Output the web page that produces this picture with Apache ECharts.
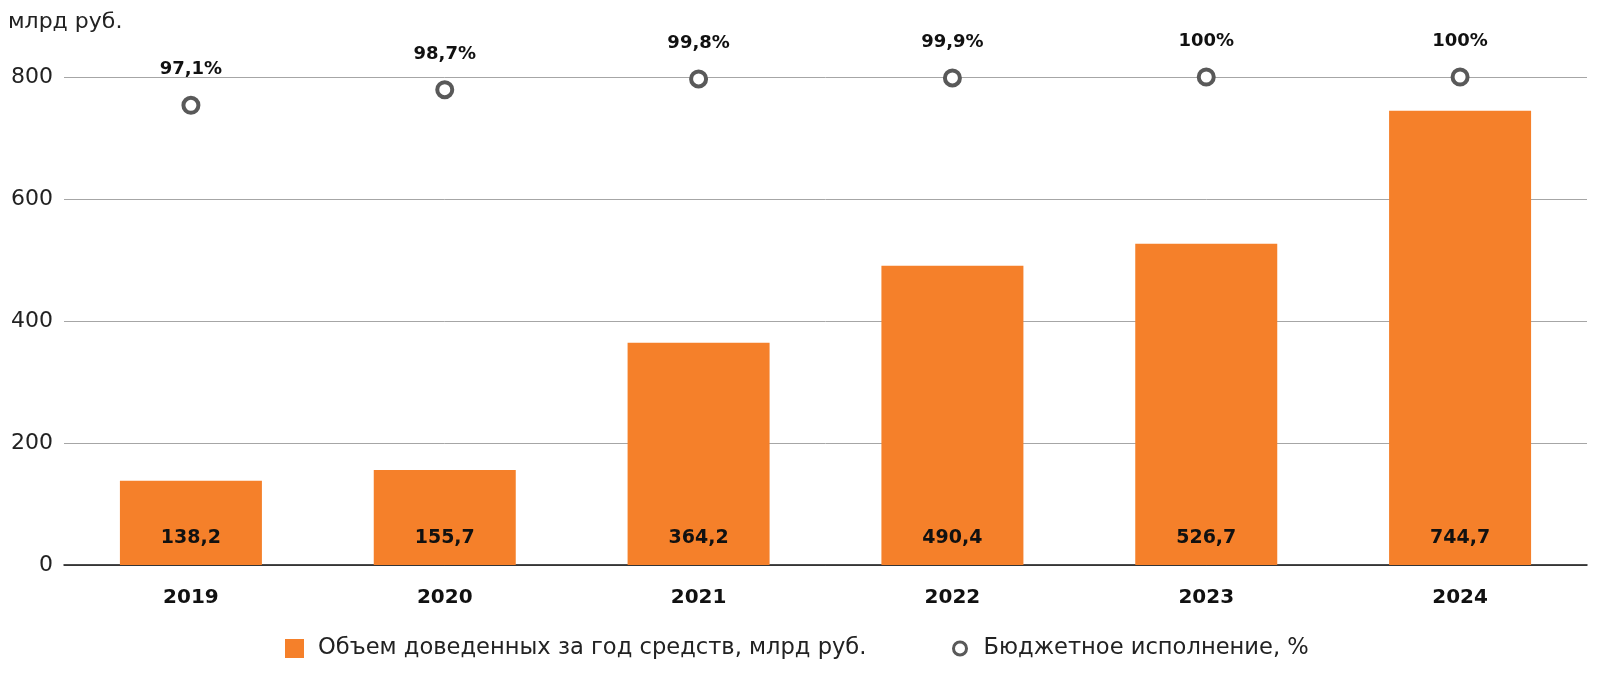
<!DOCTYPE html>
<html>
<head>
<meta charset="utf-8">
<script src="https://cdn.jsdelivr.net/npm/echarts@6/dist/echarts.min.js"></script>
<style>
    html, body { margin: 0; padding: 0; background: #fff; }
    #barChart { width: 1598px; height: 674px; }
</style>
</head>
<body>
<div id="barChart"></div>
<script>
const years = ['2019', '2020', '2021', '2022', '2023', '2024'];
const volumeValues = [138.2, 155.7, 364.2, 490.4, 526.7, 744.7];
const executionValues = [97.1, 98.7, 99.8, 99.9, 100, 100];
const yTicks = [0, 200, 400, 600, 800];

const volumeName = 'Объем доведенных за год средств, млрд руб.';
const executionName = 'Бюджетное исполнение, %';

const fontFamily = 'DejaVu Sans';

// 97.1 -> "97,1"
const toComma = (v) => String(v).replace('.', ',');

const chartOption = {
    animation: false,
    title: {
        text: 'млрд руб.',
        left: 3,
        top: 6,
        textStyle: {
            color: '#222',
            fontSize: 22,
            fontWeight: 'normal',
            fontFamily: fontFamily
        }
    },
    legend: [
        {
            data: [{ name: volumeName, icon: 'rect' }],
            left: 285,
            top: 637,
            padding: 0,
            itemWidth: 19,
            itemHeight: 19,
            textStyle: {
                color: '#222',
                fontSize: 22.6,
                fontFamily: fontFamily,
                padding: [0, 0, 0, 9]
            }
        },
        {
            data: [{
                name: executionName,
                icon: 'circle',
                itemStyle: { color: '#fff', borderColor: '#595959', borderWidth: 3 }
            }],
            left: 952,
            top: 637,
            padding: 0,
            itemWidth: 13,
            itemHeight: 13,
            textStyle: {
                color: '#222',
                fontSize: 22.6,
                fontFamily: fontFamily,
                padding: [0, 0, 0, 12]
            }
        }
    ],
    grid: {
        top: 77, left: 64, right: 11, bottom: 109
    },
    xAxis: {
        type: 'category',
        data: years,
        axisTick: { show: false },
        axisLine: {
            show: true,
            lineStyle: { color: '#111', width: 1.5 }
        },
        axisLabel: {
            margin: 23,
            color: '#111',
            fontSize: 20,
            fontWeight: 'bold',
            fontFamily: fontFamily
        }
    },
    yAxis: [
        {
            type: 'value',
            min: yTicks[0],
            max: yTicks[yTicks.length - 1],
            interval: yTicks[1] - yTicks[0],
            axisTick: { show: false },
            axisLine: { show: false },
            splitLine: {
                show: true,
                lineStyle: { color: '#a6a6a6', width: 1 }
            },
            axisLabel: {
                margin: 11,
                color: '#222',
                fontSize: 22,
                fontFamily: fontFamily
            }
        },
        {
            type: 'value',
            min: 50,
            max: 100,
            show: false,
            splitLine: { show: false }
        }
    ],
    series: [
        {
            name: volumeName,
            type: 'bar',
            data: volumeValues,
            barWidth: 142,
            itemStyle: { color: '#F5802A' },
            label: {
                show: true,
                position: 'insideBottom',
                distance: 17,
                formatter: (p) => toComma(p.value),
                color: '#111',
                fontSize: 19,
                fontWeight: 'bold',
                fontFamily: fontFamily
            }
        },
        {
            name: executionName,
            type: 'scatter',
            yAxisIndex: 1,
            data: executionValues,
            symbol: 'circle',
            symbolSize: 15,
            itemStyle: { color: '#fff', borderColor: '#595959', borderWidth: 4, opacity: 1 },
            label: {
                show: true,
                position: 'top',
                distance: 17,
                formatter: (p) => toComma(p.value) + '%',
                color: '#111',
                fontSize: 18,
                fontWeight: 'bold',
                fontFamily: fontFamily
            }
        }
    ]
};

// render chart
const barChart = document.getElementById('barChart');
const myChart = echarts.init(barChart);
myChart.setOption(chartOption);
</script>
</body>
</html>
